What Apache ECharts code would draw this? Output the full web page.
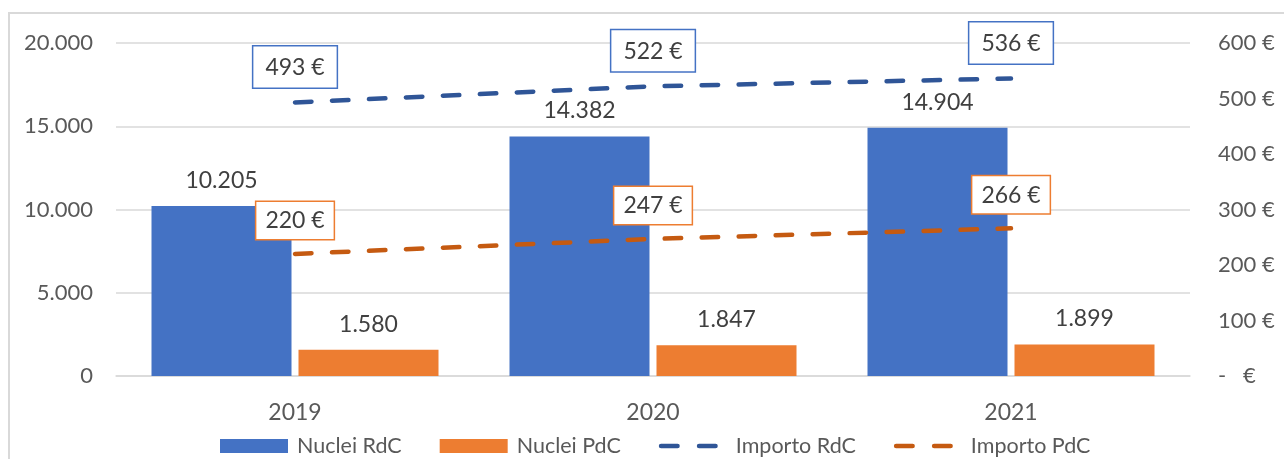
<!DOCTYPE html>
<html>
<head>
<meta charset="utf-8">
<script src="https://cdn.jsdelivr.net/npm/echarts@6/dist/echarts.min.js"></script>
<style>
html,body{margin:0;padding:0;background:#fff;}
#chart{width:1284px;height:459px;}
</style>
</head>
<body>
<div id="chart"></div>
<script>
var categories = ['2019', '2020', '2021'];
var nucleiRdC = [10205, 14382, 14904];
var nucleiPdC = [1580, 1847, 1899];
var importoRdC = [493, 522, 536];
var importoPdC = [220, 247, 266];
var seriesNames = ['Nuclei RdC', 'Nuclei PdC', 'Importo RdC', 'Importo PdC'];

var FONT = 'Lato';
function fmtThousands(v) {
  var s = String(Math.round(v));
  return s.replace(/\B(?=(\d{3})+(?!\d))/g, '.');
}
function fmtEuro(v) {
  return v === 0 ? '-   €' : v + ' €';
}

// legend icon for dashed lines: two rounded dashes in a 68x14 box
var dashIcon = 'path://M0,0M68,14' +
  'M2.25,4.75h16.5a2.25,2.25 0 0 1 0,4.5h-16.5a2.25,2.25 0 0 1 0,-4.5z' +
  'M40.25,4.75h16.5a2.25,2.25 0 0 1 0,4.5h-16.5a2.25,2.25 0 0 1 0,-4.5z';

var chart = echarts.init(document.getElementById('chart'), null, {renderer: 'canvas'});
var dash = [16.5, 20.5];
chart.setOption({
  animation: false,
  backgroundColor: '#ffffff',
  textStyle: {fontFamily: FONT},
  graphic: [{
    type: 'rect',
    shape: {x: 9, y: 13, width: 1400, height: 600},
    style: {fill: 'none', stroke: '#d9d9d9', lineWidth: 2},
    silent: true
  }],
  grid: {left: 116, right: 94, top: 43, bottom: 83},
  legend: {
    left: 220,
    top: 435,
    padding: 0,
    itemWidth: 68,
    itemHeight: 14,
    itemGap: 38,
    data: [
      {name: seriesNames[0], icon: 'rect'},
      {name: seriesNames[1], icon: 'rect'},
      {name: seriesNames[2], icon: dashIcon, itemStyle: {color: '#2F5597', borderWidth: 0}},
      {name: seriesNames[3], icon: dashIcon, itemStyle: {color: '#C55A11', borderWidth: 0}}
    ],
    textStyle: {fontFamily: FONT, fontSize: 21.5, color: '#595959', padding: [0, 0, 0, 4]}
  },
  xAxis: {
    type: 'category',
    data: categories,
    axisTick: {show: false},
    axisLine: {lineStyle: {color: '#d9d9d9', width: 1.5}},
    axisLabel: {fontFamily: FONT, fontSize: 23, color: '#595959', margin: 25}
  },
  yAxis: [{
    type: 'value',
    min: 0, max: 20000, interval: 5000,
    axisLine: {show: false},
    axisTick: {show: false},
    splitLine: {lineStyle: {color: '#d9d9d9', width: 1.5}},
    axisLabel: {fontFamily: FONT, fontSize: 22, color: '#595959', margin: 23, formatter: fmtThousands}
  }, {
    type: 'value',
    min: 0, max: 600, interval: 100,
    axisLine: {show: false},
    axisTick: {show: false},
    splitLine: {show: false},
    axisLabel: {fontFamily: FONT, fontSize: 22, color: '#595959', margin: 28, formatter: fmtEuro}
  }],
  series: [{
    name: seriesNames[0],
    type: 'bar',
    data: nucleiRdC,
    barWidth: 140,
    barGap: '5%',
    itemStyle: {color: '#4472C4'},
    label: {show: true, position: 'top', distance: 14, fontFamily: FONT, fontSize: 23, color: '#404040', formatter: function (p) { return fmtThousands(p.value); }}
  }, {
    name: seriesNames[1],
    type: 'bar',
    data: nucleiPdC,
    barWidth: 140,
    barGap: '5%',
    itemStyle: {color: '#ED7D31'},
    label: {show: true, position: 'top', distance: 14, fontFamily: FONT, fontSize: 23, color: '#404040', formatter: function (p) { return fmtThousands(p.value); }}
  }, {
    name: seriesNames[2],
    type: 'line',
    yAxisIndex: 1,
    data: importoRdC,
    showSymbol: true,
    symbol: 'circle',
    symbolSize: 0.01,
    itemStyle: {color: '#2F5597'},
    lineStyle: {color: '#2F5597', width: 4.5, type: dash, cap: 'round'},
    z: 5,
    label: {
      show: true, position: 'top', distance: 15,
      fontFamily: FONT, fontSize: 23, lineHeight: 24, color: '#404040',
      backgroundColor: '#ffffff', borderColor: '#4472C4', borderWidth: 1.5,
      padding: [9, 12, 8, 12],
      formatter: function (p) { return fmtEuro(p.value); }
    }
  }, {
    name: seriesNames[3],
    type: 'line',
    yAxisIndex: 1,
    data: importoPdC,
    showSymbol: true,
    symbol: 'circle',
    symbolSize: 0.01,
    itemStyle: {color: '#C55A11'},
    lineStyle: {color: '#C55A11', width: 4.5, type: dash, cap: 'round'},
    z: 5,
    label: {
      show: true, position: 'top', distance: 15,
      fontFamily: FONT, fontSize: 23, lineHeight: 24, color: '#404040',
      backgroundColor: '#ffffff', borderColor: '#ED7D31', borderWidth: 1.5,
      padding: [7, 9, 6, 9],
      formatter: function (p) { return fmtEuro(p.value); }
    }
  }]
});
</script>
</body>
</html>
